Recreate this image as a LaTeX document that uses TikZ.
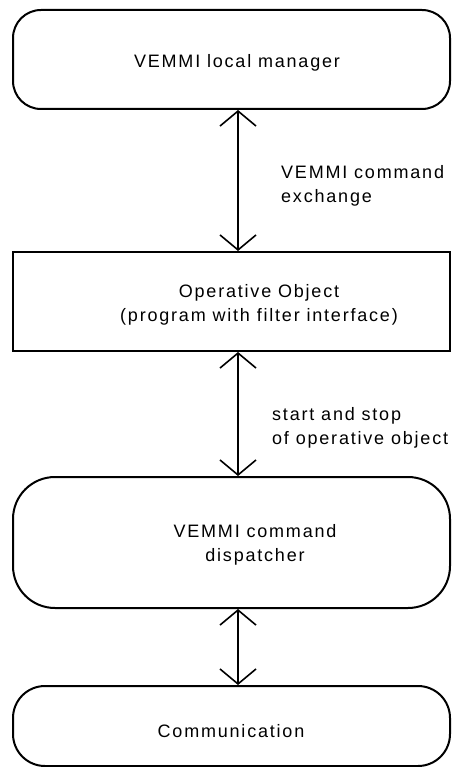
\documentclass[tikz,border=0pt]{standalone}
\usepackage{fontspec}
\setmainfont{Liberation Sans}[LetterSpace=10]
\usetikzlibrary{arrows.meta}
\begin{document}
\begin{tikzpicture}[x=1pt,y=-1pt,
  box/.style={draw=black, line width=2pt, inner sep=0pt, minimum width=437pt},
  lbl/.style={font=\fontsize{18}{24}\selectfont, inner sep=0pt},
  barb/.tip={Straight Barb[length=15pt,width=36pt,line width=1.6pt]},
  link/.style={line width=1.6pt, line join=miter, {barb}-{barb}}]
\useasboundingbox (0,0) rectangle (458,767);
% boxes
\node[box, rounded corners=28pt, minimum height=99pt] (lm) at (231.5,59.5) {};
\node[box, minimum height=99pt] (oo) at (231.5,301.5) {};
\node[box, rounded corners=42pt, minimum height=131pt] (cd) at (231.5,542.5) {};
\node[box, rounded corners=32pt, minimum height=80pt] (cm) at (231.5,726) {};
% box texts
\node[lbl, anchor=base] (tlm) at (237,68) {VEMMI local manager};
\node[lbl, align=center] (too) at (259,305) {Operative Object\\(program with filter interface)};
\node[lbl, align=center] (tcd) at (255,545) {VEMMI command\\dispatcher};
\node[lbl, anchor=base] (tcm) at (231,737) {Communication};
% connector labels
\node[lbl, align=left, anchor=west] (l1) at (281,186) {VEMMI command\\exchange};
\node[lbl, align=left, anchor=west] (l2) at (272,428) {start and stop\\of operative object};
% connectors
\draw[link] (lm.south -| 238,0) -- (oo.north -| 238,0);
\draw[link] (oo.south -| 238,0) -- (cd.north -| 238,0);
\draw[link] (cd.south -| 238,0) -- (cm.north -| 238,0);
\end{tikzpicture}
\end{document}
